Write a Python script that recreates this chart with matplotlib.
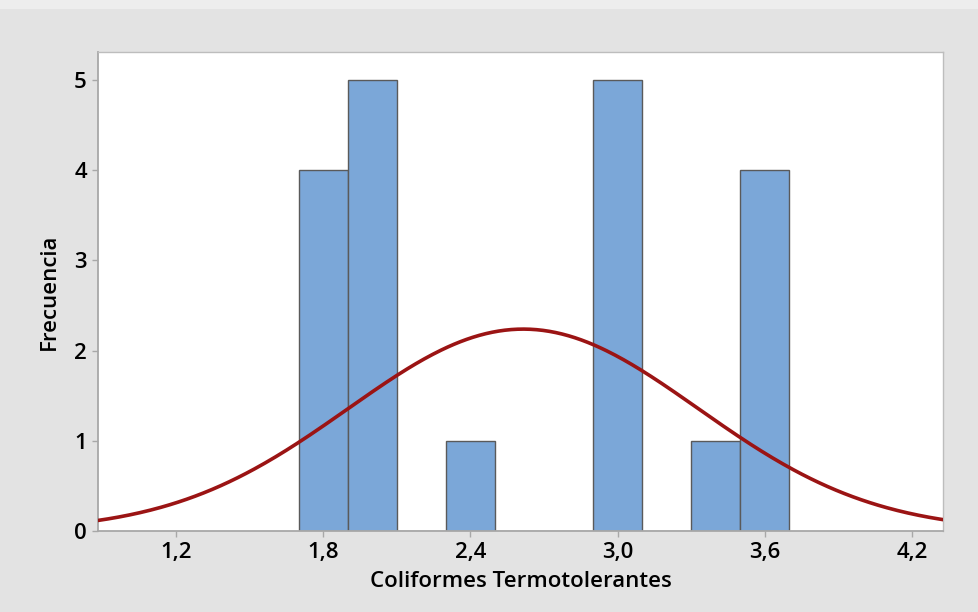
import numpy as np
import matplotlib.pyplot as plt
from matplotlib.patches import Rectangle

plt.rcParams['font.family'] = ['Open Sans', 'DejaVu Sans']

# histogram bins (centres) and counts
bin_centers = [1.8, 2.0, 2.2, 2.4, 2.6, 2.8, 3.0, 3.2, 3.4, 3.6]
counts = [4, 5, 0, 1, 0, 0, 5, 0, 1, 4]
bin_width = 0.2

# fitted normal
fit_mean = 2.615
fit_sd = 0.713

xticks = [1.2, 1.8, 2.4, 3.0, 3.6, 4.2]
xticklabels = ['1,2', '1,8', '2,4', '3,0', '3,6', '4,2']
yticks = [0, 1, 2, 3, 4, 5]

fig = plt.figure(figsize=(9.79, 6.12), dpi=100, facecolor='#e3e3e3')
fig.patches.append(Rectangle((0, 0.985), 1, 0.015, transform=fig.transFigure,
                             facecolor='#ededed', edgecolor='none', zorder=0))
ax = fig.add_axes([0.1001, 0.1324, 0.8631, 0.7826])
ax.set_facecolor('white')

ax.bar(bin_centers, counts, width=bin_width, color='#7ba7d8',
       edgecolor='#5a5a5a', linewidth=1.0, zorder=2)

n = sum(counts)
xs = np.linspace(0.88, 4.33, 400)
pdf = np.exp(-0.5 * ((xs - fit_mean) / fit_sd) ** 2) / (fit_sd * np.sqrt(2 * np.pi))
ax.plot(xs, n * bin_width * pdf, color='#9b1414', linewidth=2.6, zorder=3)

ax.set_xlim(0.882, 4.326)
ax.set_ylim(0, 5.31)
ax.set_xticks(xticks)
ax.set_xticklabels(xticklabels)
ax.set_yticks(yticks)

for side in ['left', 'bottom']:
    ax.spines[side].set_color('#a8a8a8')
    ax.spines[side].set_linewidth(1.3)
for side in ['top', 'right']:
    ax.spines[side].set_color('#bdbdbd')
    ax.spines[side].set_linewidth(1.0)

ax.tick_params(axis='both', direction='out', length=4, width=1,
               color='#a8a8a8', labelsize=16, labelcolor='black', pad=4)
for lbl in ax.get_xticklabels() + ax.get_yticklabels():
    lbl.set_fontweight('semibold')

ax.set_xlabel('Coliformes Termotolerantes', fontsize=16, fontweight='semibold', labelpad=6)
ax.set_ylabel('Frecuencia', fontsize=16, fontweight='semibold', labelpad=10)

fig.savefig('out.png', dpi=100, facecolor=fig.get_facecolor())
